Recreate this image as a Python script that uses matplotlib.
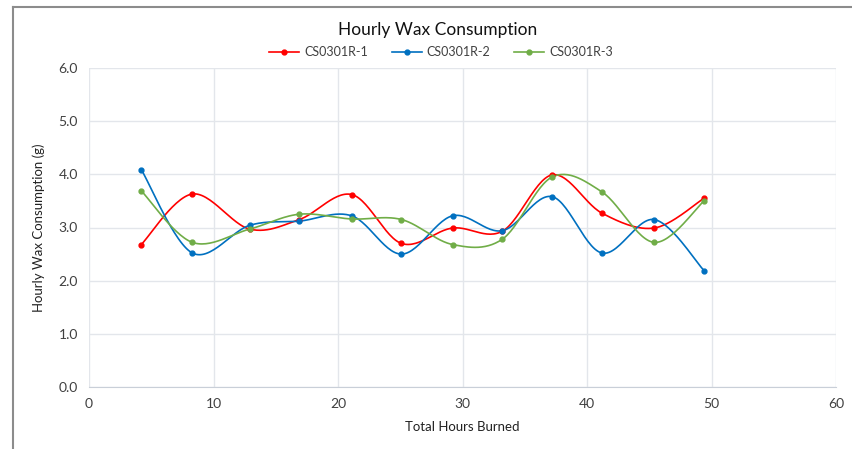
import numpy as np
import matplotlib.pyplot as plt
from matplotlib.lines import Line2D

plt.rcParams['font.family'] = ['Lato', 'DejaVu Sans']

# Data
hours = [4.2, 8.3, 12.9, 16.9, 21.1, 25.1, 29.2, 33.2, 37.2, 41.2, 45.4, 49.4]
r1 = [2.68, 3.63, 2.97, 3.15, 3.62, 2.70, 2.99, 2.93, 3.99, 3.27, 2.99, 3.55]
r2 = [4.09, 2.52, 3.04, 3.12, 3.22, 2.50, 3.22, 2.94, 3.58, 2.52, 3.15, 2.19]
r3 = [3.69, 2.72, 2.97, 3.25, 3.16, 3.15, 2.68, 2.78, 3.95, 3.67, 2.72, 3.50]
names = ['CS0301R-1', 'CS0301R-2', 'CS0301R-3']
colors = ['#ff0000', '#0070c0', '#70ad47']


def smooth(x, y, n=30):
    # Excel-style smoothed line: cubic Bezier through the points,
    # control points from neighbouring points (tension 1/6)
    x = np.asarray(x, float)
    y = np.asarray(y, float)
    xs, ys = [], []
    t = np.linspace(0, 1, n)
    for i in range(len(x) - 1):
        p0 = np.array([x[max(i - 1, 0)], y[max(i - 1, 0)]])
        p1 = np.array([x[i], y[i]])
        p2 = np.array([x[i + 1], y[i + 1]])
        p3 = np.array([x[min(i + 2, len(x) - 1)], y[min(i + 2, len(x) - 1)]])
        c1 = p1 + (p2 - p0) / 6
        c2 = p2 - (p3 - p1) / 6
        pts = ((1 - t) ** 3)[:, None] * p1 + (3 * (1 - t) ** 2 * t)[:, None] * c1 \
            + (3 * (1 - t) * t ** 2)[:, None] * c2 + (t ** 3)[:, None] * p2
        xs.extend(pts[:, 0])
        ys.extend(pts[:, 1])
    return xs, ys


fig = plt.figure(figsize=(8.52, 4.49), dpi=100)
ax = fig.add_axes([89 / 852, 1 - 387 / 449, (836 - 89) / 852, (387 - 68) / 449])

for y, name, c in zip([r1, r2, r3], names, colors):
    sx, sy = smooth(hours, y)
    ax.plot(sx, sy, color=c, lw=1.2, zorder=3)
    ax.plot(hours, y, 'o', color=c, ms=3.5, zorder=4)

ax.set_xlim(0, 60)
ax.set_ylim(0, 6)
ax.set_xticks(range(0, 61, 10))
ax.set_yticks(np.arange(0, 6.1, 1))
ax.set_yticklabels(['%.1f' % v for v in np.arange(0, 6.1, 1)])
ax.grid(True, color='#e3e6eb', lw=1)
ax.set_axisbelow(True)
for s in ['top', 'right', 'left']:
    ax.spines[s].set_visible(False)
ax.spines['bottom'].set_color('#c9cfd8')
ax.tick_params(length=0, labelsize=10, colors='#404040', pad=8)
ax.set_xlabel('Total Hours Burned', fontsize=9.5, color='#222222', labelpad=8)
ax.set_ylabel('Hourly Wax Consumption (g)', fontsize=9.5, color='#222222', labelpad=10)

fig.text(438 / 852, 1 - 30 / 449, 'Hourly Wax Consumption', ha='center', va='center',
         fontsize=12.5, color='#111111')

handles = [Line2D([], [], color=c, lw=1.2, marker='o', ms=3.5) for c in colors]
fig.legend(handles, names, loc='center', bbox_to_anchor=(441 / 852, 1 - 52 / 449),
           ncol=3, frameon=False, fontsize=9, handlelength=2.4, columnspacing=1.9,
           handletextpad=0.4, labelcolor='#404040')

# chart outer border
fig.add_artist(Line2D([13 / 852, 13 / 852], [0, 1 - 7 / 449], color='#8c8c8c', lw=1.5))
fig.add_artist(Line2D([13 / 852, 1], [1 - 7 / 449, 1 - 7 / 449], color='#8c8c8c', lw=1.5))

fig.savefig('out.png', dpi=100)
